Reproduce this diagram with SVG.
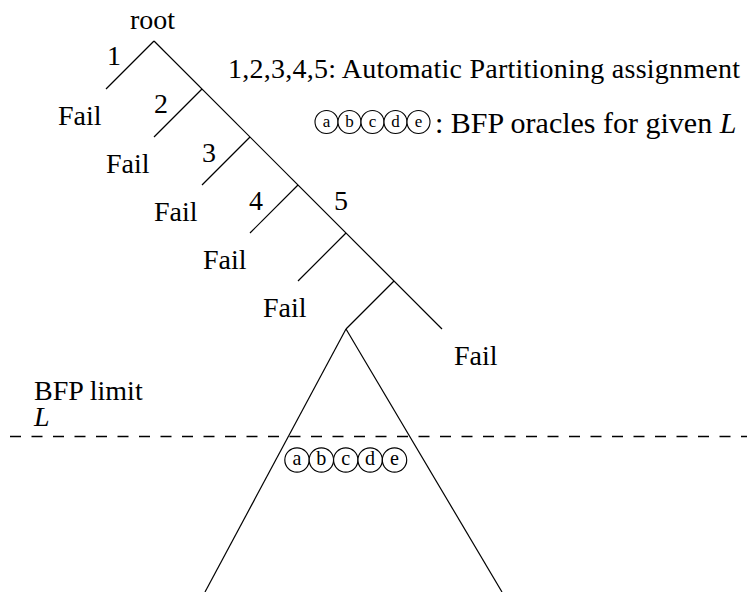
<svg xmlns="http://www.w3.org/2000/svg" width="747" height="592" viewBox="0 0 747 592">
<style>
.t{font-family:"Liberation Serif","Times New Roman",serif;font-size:28px;fill:#000}
.it{font-style:italic}
.c{font-family:"Liberation Serif","Times New Roman",serif;fill:#000;text-anchor:middle}
.ln{stroke:#000;stroke-width:1.2;fill:none}
.o{stroke:#000;stroke-width:1.1;fill:#fff}
.dash{stroke:#000;stroke-width:1.3;stroke-dasharray:11 10.5}
</style>
<defs>
<g id="oracles">
<circle class="o" cx="0" cy="0" r="11.5"/><text class="c" x="0" y="5">a</text>
<circle class="o" cx="23" cy="0" r="11.5"/><text class="c" x="23" y="5">b</text>
<circle class="o" cx="46" cy="0" r="11.5"/><text class="c" x="46" y="5">c</text>
<circle class="o" cx="69" cy="0" r="11.5"/><text class="c" x="69" y="5">d</text>
<circle class="o" cx="92" cy="0" r="11.5"/><text class="c" x="92" y="5">e</text>
</g>
</defs>
<rect width="747" height="592" fill="#fff"/>
<g id="connectors">
<line class="ln" x1="154" y1="41" x2="442" y2="329"/>
<line class="ln" x1="154" y1="41" x2="106" y2="89"/>
<line class="ln" x1="202" y1="89" x2="154" y2="137"/>
<line class="ln" x1="250" y1="137" x2="202" y2="185"/>
<line class="ln" x1="298" y1="185" x2="250" y2="233"/>
<line class="ln" x1="346" y1="233" x2="298" y2="281"/>
<line class="ln" x1="394" y1="281" x2="346" y2="329"/>
<line class="ln" x1="346" y1="329" x2="205" y2="592"/>
<line class="ln" x1="346" y1="329" x2="502" y2="592"/>
<line class="dash" x1="10" y1="436.5" x2="747" y2="436.5"/>
</g>
<g id="root"><text class="t" x="130" y="29">root</text></g>
<g id="labels">
<text class="t" x="107" y="65">1</text>
<text class="t" x="154" y="113">2</text>
<text class="t" x="202" y="162">3</text>
<text class="t" x="249" y="210">4</text>
<text class="t" x="334" y="210">5</text>
</g>
<g id="fail1"><text class="t" x="58" y="125">Fail</text></g>
<g id="fail2"><text class="t" x="106" y="173">Fail</text></g>
<g id="fail3"><text class="t" x="154" y="221">Fail</text></g>
<g id="fail4"><text class="t" x="203" y="269">Fail</text></g>
<g id="fail5"><text class="t" x="263" y="317">Fail</text></g>
<g id="fail6"><text class="t" x="454" y="365">Fail</text></g>
<g id="legend">
<text class="t" x="228" y="78" textLength="512" lengthAdjust="spacing">1,2,3,4,5: Automatic Partitioning assignment</text>
<use href="#oracles" x="326.5" y="122" font-size="17"/>
<text class="t" x="435" y="133" style="font-size:30px">: BFP oracles for given <tspan class="it">L</tspan></text>
</g>
<g id="limit">
<text class="t" x="34" y="400">BFP limit</text>
<text class="t it" x="34" y="426">L</text>
</g>
<g id="oracles-in-tree"><use href="#oracles" x="297" y="460" font-size="19" transform="translate(297 460) scale(1.06) translate(-297 -460)"/></g>
</svg>
